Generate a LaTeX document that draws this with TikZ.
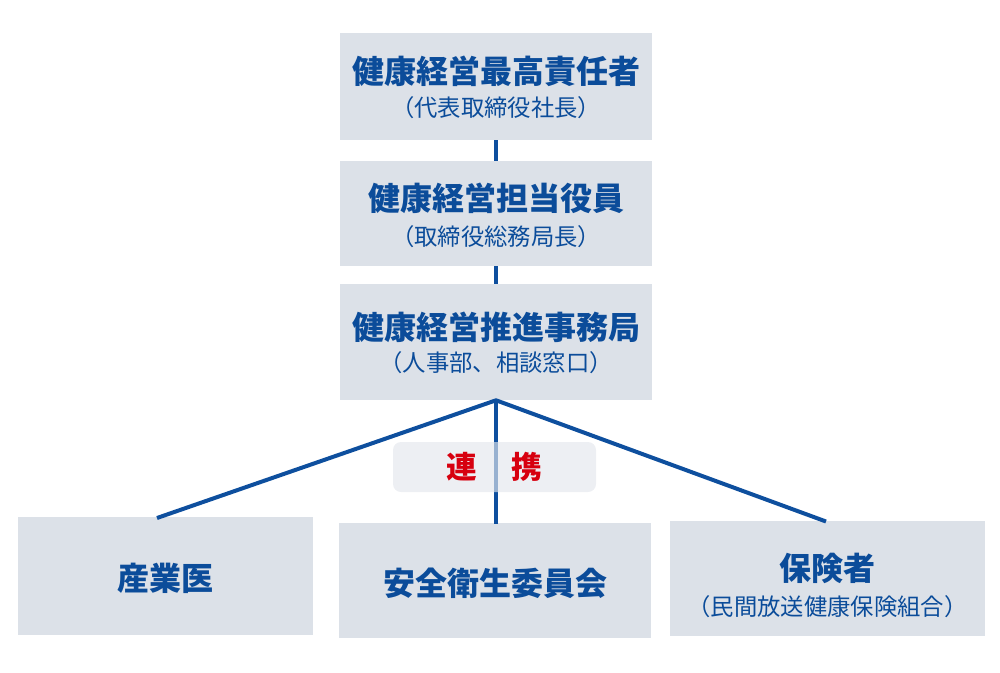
\documentclass[tikz,border=0pt]{standalone}
\usepackage{fontspec}
\newfontfamily\jp{Noto Sans CJK JP}
\definecolor{boxfill}{HTML}{DCE1E8}
\definecolor{pillfill}{HTML}{E3E7EC}
\definecolor{ink}{HTML}{0B4C9A}
\definecolor{linec}{HTML}{0E4F9E}
\definecolor{redc}{HTML}{D7000F}
\begin{document}
\begin{tikzpicture}[x=0.75pt,y=-0.75pt,
  box/.style={fill=boxfill,draw=none,inner sep=0pt,rectangle},
  title/.style={text=ink,font=\jp\bfseries\fontsize{24}{28}\selectfont,inner sep=0pt},
  sub/.style={text=ink,font=\jp\fontsize{17.5}{20}\selectfont,inner sep=0pt},
  conn/.style={draw=linec,line width=3pt},
  pill/.style={fill=pillfill,fill opacity=0.65,rounded corners=6pt,inner sep=0pt,draw=none},
  redtext/.style={text=redc,font=\jp\bfseries\fontsize{23}{26}\selectfont,inner sep=0pt}]
\useasboundingbox (0,0) rectangle (1000,672);
% boxes
\node[box,minimum width=234pt,minimum height=80.25pt] (b1) at (496,86.5) {};
\node[box,minimum width=234pt,minimum height=78.75pt] (b2) at (496,213.5) {};
\node[box,minimum width=234pt,minimum height=87pt] (b3) at (496,342) {};
\node[box,minimum width=221.25pt,minimum height=88.5pt] (bl) at (165.5,576) {};
\node[box,minimum width=234pt,minimum height=86.25pt] (bm) at (495,580.5) {};
\node[box,minimum width=236.25pt,minimum height=86.25pt] (br) at (827.5,578.5) {};
% connectors
\coordinate (lt) at (157,518);
\coordinate (mt) at (496,523.5);
\coordinate (rt) at (826,521.5);
\draw[conn] (b1.south) -- (b2.north);
\draw[conn] (b2.south) -- (b3.north);
\draw[conn,line join=round] (lt) -- (b3.south) -- (rt);
\draw[conn] (b3.south) -- (mt);
% pill
\node[pill,minimum width=152.25pt,minimum height=37.5pt] (pl) at (494.5,467) {};
\node[redtext] (r1) at (462,467) {連};
\node[redtext] (r2) at (527,467) {携};
% texts
\node[title] (t1) at (496,71) {健康経営最高責任者};
\node[sub] (s1) at (496,108) {（代表取締役社長）};
\node[title] (t2) at (496,198) {健康経営担当役員};
\node[sub] (s2) at (496,237) {（取締役総務局長）};
\node[title] (t3) at (496,327) {健康経営推進事務局};
\node[sub] (s3) at (496,363) {（人事部、相談窓口）};
\node[title] (tl) at (165.5,578) {産業医};
\node[title] (tm) at (495,583) {安全衛生委員会};
\node[title] (tr) at (827.5,568) {保険者};
\node[sub] (sr) at (827.5,607) {（民間放送健康保険組合）};
\end{tikzpicture}
\end{document}
